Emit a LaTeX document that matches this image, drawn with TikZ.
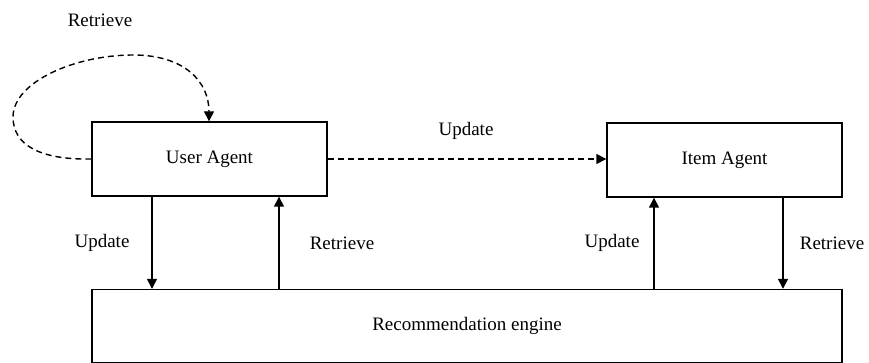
\documentclass[tikz,border=0pt]{standalone}
\usepackage{fontspec}
\setmainfont{Liberation Serif}
\usetikzlibrary{arrows.meta}
\begin{document}
\begin{tikzpicture}[x=1pt,y=-1pt,
  box/.style={draw=black,line width=1.4pt,minimum width=235pt,minimum height=74pt,inner sep=0pt,font=\fontsize{19}{23}\selectfont},
  lbl/.style={inner sep=0pt,font=\fontsize{19}{23}\selectfont},
  arr/.style={line width=1.4pt,-{Triangle[length=10pt,width=10pt]}},
  dasharr/.style={arr,dash pattern=on 6pt off 4pt}]
\useasboundingbox (0,0) rectangle (869,363);
\node[box] (ua) at (209.5,159) {User Agent};
\node[box] (ia) at (724.5,160) {Item Agent};
\node[box,minimum width=750pt,minimum height=73pt] (re) at (467,326) {Recommendation engine};
% vertical connectors
\draw[arr] ([xshift=-57.5]ua.south) -- ([xshift=-57.5]ua.south |- re.north);
\draw[arr] ([xshift=-188]re.north) -- ([xshift=-188]re.north |- ua.south);
\draw[arr] ([xshift=187]re.north) -- ([xshift=187]re.north |- ia.south);
\draw[arr] ([xshift=58.5]ia.south) -- ([xshift=58.5]ia.south |- re.north);
% dashed update
\draw[dasharr] (ua.east) -- (ia.west |- ua.east);
% self loop
\coordinate (ls) at (ua.west);
\draw[dasharr] (ls) .. controls (40,160) and (13,145) .. (13,117)
  .. controls (13,82) and (75,55) .. (133,55)
  .. controls (185,55) and (209,82) .. ([xshift=-0.5]ua.north);
% labels
\node[lbl] (l1) at (100,20) {Retrieve};
\node[lbl] (l2) at (466,131) {Update};
\node[lbl] (l3) at (102,243) {Update};
\node[lbl] (l4) at (342,243) {Retrieve};
\node[lbl] (l5) at (612,243) {Update};
\node[lbl] (l6) at (832,243) {Retrieve};
\end{tikzpicture}
\end{document}
